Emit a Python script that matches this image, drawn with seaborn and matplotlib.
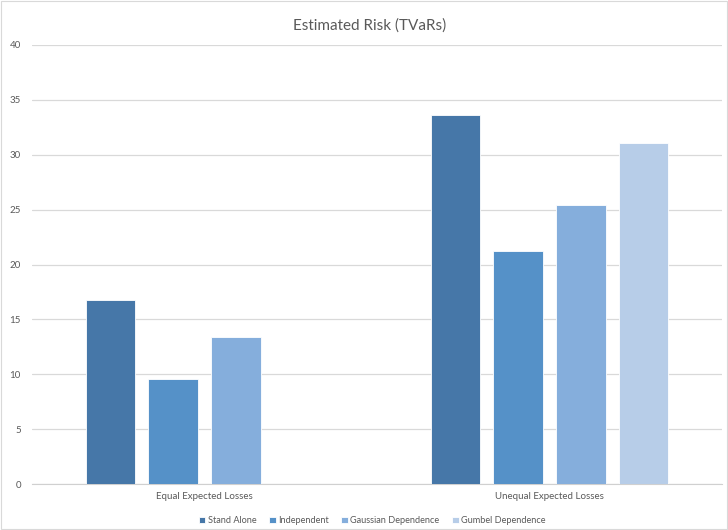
import matplotlib.pyplot as plt
import matplotlib.patches as mpatches
import pandas as pd
import seaborn as sns

# data
categories = ['Equal Expected Losses', 'Unequal Expected Losses']
series = ['Stand Alone', 'Independent', 'Gaussian Dependence', 'Gumbel Dependence']
stand_alone = [16.8, 33.6]
independent = [9.6, 21.2]
gaussian = [13.4, 25.4]
gumbel = [None, 31.1]  # no Gumbel bar for the equal case
colors = ['#4677a8', '#5591c8', '#85aedc', '#b7cde8']

rows = []
for name, vals in zip(series, [stand_alone, independent, gaussian, gumbel]):
    for cat, v in zip(categories, vals):
        if v is not None:
            rows.append({'case': cat, 'series': name, 'tvar': v})
df = pd.DataFrame(rows)

sns.set_style('white')
plt.rcParams['font.family'] = ['Lato', 'DejaVu Sans']

fig = plt.figure(figsize=(7.28, 5.3), dpi=100)
ax = fig.add_axes([32 / 728, 46 / 530, 690 / 728, 439 / 530])

sns.barplot(data=df, x='case', y='tvar', hue='series', order=categories,
            hue_order=series, palette=colors, saturation=1, width=0.73, gap=0.22,
            errorbar=None, edgecolor='white', linewidth=0.6, ax=ax, zorder=3)

ax.set_ylim(0, 40)
ax.set_yticks(range(0, 41, 5))
ax.set_xlim(-0.5, 1.5)
ax.yaxis.grid(True, color='#d9d9d9', linewidth=0.9, zorder=0)
ax.set_axisbelow(True)
for s in ['left', 'right', 'top']:
    ax.spines[s].set_visible(False)
ax.spines['bottom'].set_color('#d0d0d0')
ax.tick_params(axis='both', length=0, labelsize=7, colors='#595959')
ax.tick_params(axis='x', pad=6)
ax.tick_params(axis='y', pad=8)
ax.set_xlabel('')
ax.set_ylabel('')

fig.suptitle('Estimated Risk (TVaRs)', x=0.508, y=0.965, fontsize=11, color='#595959')

ax.legend(loc='upper center', bbox_to_anchor=(0.493, -0.055), ncol=4, frameon=False,
          fontsize=6.6, handlelength=0.7, handleheight=0.7, handletextpad=0.25,
          columnspacing=1.4, labelcolor='#595959')

# light border around the whole chart
fig.patches.append(mpatches.Rectangle((0.002, 0.002), 0.996, 0.996, transform=fig.transFigure,
                                      fill=False, edgecolor='#d9d9d9', linewidth=0.8))

fig.savefig('out.png', dpi=100)
